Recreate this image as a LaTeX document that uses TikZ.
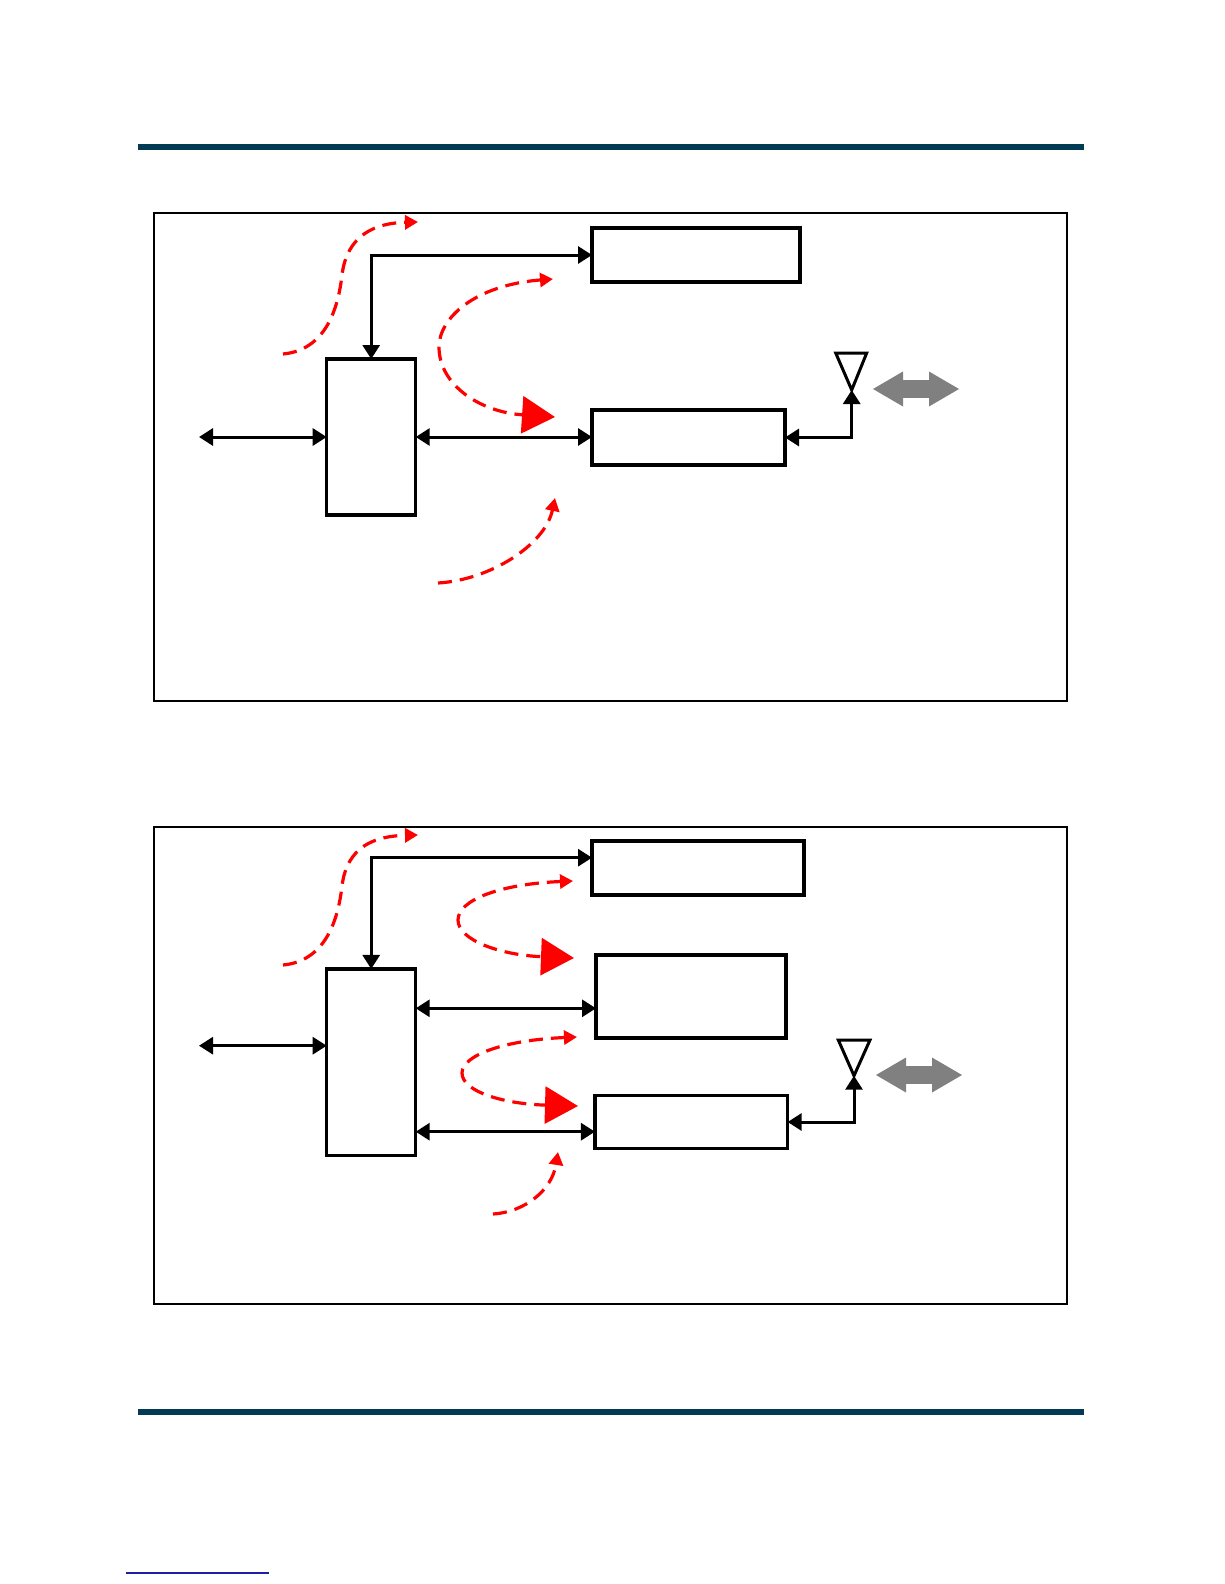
\documentclass[tikz,border=0pt]{standalone}
\usetikzlibrary{arrows.meta}
\definecolor{barteal}{RGB}{3,59,84}
\definecolor{linkblue}{RGB}{30,30,170}
\definecolor{arrowgray}{RGB}{128,128,128}
\begin{document}
\begin{tikzpicture}[x=1pt,y=-1pt,
  frame/.style={draw=black,line width=2pt,rectangle,inner sep=0pt,outer sep=0pt},
  blk/.style={draw=black,line width=3.3pt,rectangle,fill=white,inner sep=0pt,outer sep=0pt},
  link/.style={line width=3pt,{Triangle[length=14pt,width=17pt]}-{Triangle[length=14pt,width=17pt]}},
  flow/.style={red,line width=3.2pt,dash pattern=on 14pt off 8pt},
  flowsmall/.style={flow,-{Triangle[length=13pt,width=14pt]}},
  flowboth/.style={flow,{Triangle[length=13pt,width=14pt]}-{Triangle[length=33pt,width=37pt]}},
  ant/.style={draw=black,line width=3pt,fill=white,line join=miter},
  grayarrow/.pic={\fill[arrowgray] (-43,0) -- (-13,-17.5) -- (-13,-8.8) -- (13,-8.8) -- (13,-17.5) -- (43,0) -- (13,17.5) -- (13,8.8) -- (-13,8.8) -- (-13,17.5) -- cycle;}
]
\useasboundingbox (0,0) rectangle (1224,1584);
\fill[white] (0,0) rectangle (1224,1584);

% header / footer bars
\fill[barteal] (138,144) rectangle (1084,150);
\fill[barteal] (138,1409) rectangle (1084,1415);
\fill[linkblue] (126,1572) rectangle (269,1574);

% ===== Panel 1 =====
\node[frame,minimum width=913pt,minimum height=488pt] (frame1) at (610,457) {};
\node[blk,minimum width=89pt,minimum height=156pt] (cpu1) at (371.2,437) {};
\node[blk,minimum width=208pt,minimum height=54pt] (top1) at (696,255) {};
\node[blk,minimum width=193pt,minimum height=55pt] (mid1) at (688.5,437.5) {};
\coordinate (l1) at (199,437);
\coordinate (ant1) at (851.7,390);

\draw[link] (l1) -- (cpu1.west |- l1);
\draw[link] (cpu1.east) -- (mid1.west |- cpu1.east);
\draw[link] (cpu1.north) |- (top1.west);
\draw[ant] (835.7,353) -- (866.7,353) -- (ant1) -- cycle;
\draw[link] (mid1.east) -| (ant1);
\pic at (916,389) {grayarrow};

\draw[flowsmall] (283,354) .. controls (325,350) and (338,310) .. (342,275) .. controls (347,235) and (375,223) .. (418,222);
\draw[flowboth] (553,279) .. controls (475,285) and (439,318) .. (439,347) .. controls (439,385) and (480,412) .. (555,417);
\draw[flowsmall] (438,583) .. controls (490,580) and (545,545) .. (555,498);

% ===== Panel 2 =====
\node[frame,minimum width=913pt,minimum height=477pt] (frame2) at (610,1065.5) {};
\node[blk,minimum width=89pt,minimum height=186.7pt] (cpu2) at (371.2,1062.3) {};
\node[blk,minimum width=212pt,minimum height=54pt] (top2) at (698,868) {};
\node[blk,minimum width=190pt,minimum height=83pt] (mid2) at (691,996.5) {};
\node[blk,minimum width=192.7pt,minimum height=52.6pt] (bot2) at (691.3,1122) {};
\coordinate (l2) at (199,1045.7);
\coordinate (t2y) at (0,857.7);
\coordinate (m2y) at (0,1008.3);
\coordinate (b2y) at (0,1131.7);
\coordinate (ant2) at (854,1075.7);

\draw[link] (l2) -- (cpu2.west |- l2);
\draw[link] (cpu2.north) |- (top2.west |- t2y);
\draw[link] (cpu2.east |- m2y) -- (mid2.west |- m2y);
\draw[link] (cpu2.east |- b2y) -- (bot2.west |- b2y);
\draw[ant] (838.3,1040) -- (870,1040) -- (ant2) -- cycle;
\draw[link] (bot2.east) -| (ant2);
\pic at (919,1075) {grayarrow};

\draw[flowsmall] (283,965) .. controls (325,961) and (338,921) .. (342,886) .. controls (347,846) and (375,836) .. (418,835);
\draw[flowboth] (573,881) .. controls (500,884) and (458,900) .. (458,920) .. controls (458,940) and (500,955) .. (574,958);
\draw[flowboth] (577,1037) .. controls (505,1040) and (462,1055) .. (462,1073) .. controls (462,1092) and (505,1104) .. (578,1106);
\draw[flowsmall] (493,1214) .. controls (525,1212) and (552,1190) .. (558,1152);
\end{tikzpicture}
\end{document}
